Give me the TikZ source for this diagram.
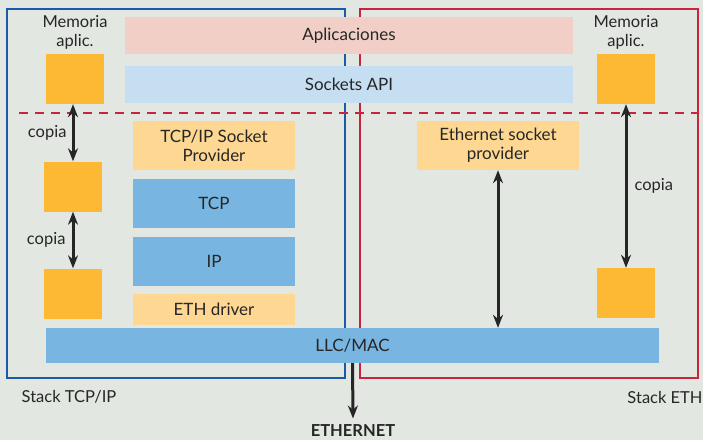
\documentclass[tikz,border=0pt]{standalone}
\usepackage{fontspec}
\setmainfont{Lato}
\usepackage{tikz}
\usetikzlibrary{calc,positioning,arrows.meta}
\definecolor{fondo}{HTML}{E2E7E1}
\definecolor{azulmarco}{HTML}{1B5AA6}
\definecolor{rojomarco}{HTML}{C8243F}
\definecolor{rosa}{HTML}{F1CFC6}
\definecolor{celeste}{HTML}{C6DEF1}
\definecolor{naranja}{HTML}{FDB933}
\definecolor{crema}{HTML}{FED892}
\definecolor{azul}{HTML}{78B5E1}

\begin{document}
\begin{tikzpicture}[
x=1pt, y=-1pt,
capa/.style={
	rectangle, inner sep=0pt,
	minimum width=162pt, minimum height=49pt,
	text=black!85, align=center,
	font=\fontsize{17}{19}\selectfont
},
mem/.style={
	rectangle, fill=naranja,
	minimum width=58pt, minimum height=50pt
},
marco/.style={line width=2.8pt},
flecha/.style={line width=3pt, black!85,
	{Stealth[length=13pt,width=10pt]}-{Stealth[length=13pt,width=10pt]}},
txt/.style={text=black!85, font=\fontsize{16.5}{18.5}\selectfont, align=center}
]
\useasboundingbox[fill=fondo] (0,0) rectangle (703,440);
% marcos de los dos stacks
\draw[marco, azulmarco] (7,9) rectangle (345,378);
\draw[marco, rojomarco] (360,9) rectangle (698,378);
\draw[rojomarco, line width=2.8pt, dash pattern=on 9pt off 7pt] (19,113) -- (698,113);

\node[capa, fill=rosa, minimum width=448pt, minimum height=37pt] (app) at (349,35.5) {Aplicaciones};
\node[capa, fill=celeste, minimum width=448pt, minimum height=37pt] (sock) at (349,84.5) {Sockets API};

% lado TCP/IP
\node[capa, fill=crema] (tcpsp) at (214,145.5) {TCP/IP Socket\\Provider};
\node[capa, fill=azul, below = 9pt of tcpsp] (tcp) {TCP};
\node[capa, fill=azul, below = 8pt of tcp] (ip) {IP};
\node[capa, fill=crema, minimum height=31pt, below = 8pt of ip] (eth) {ETH driver};
\node[capa, fill=azul, minimum width=613pt, minimum height=35pt] (llc) at (352.5,345.5) {LLC/MAC};

\node[mem] (m1) at (75,79) {};
\node[mem] (m2) at (73,186.5) {};
\node[mem] (m3) at (73,293.5) {};
\node[txt, above = 1pt of m1] (lm1) {Memoria\\aplic.};
\draw[flecha] (m2.north) -- (m2.north |- m1.south);
\draw[flecha] (m3.north) -- (m2.south);
\node[txt, left = 4pt of $(m1.south)!0.5!(m2.north)$] (c1) {copia};
\node[txt, left = 4pt of $(m2.south)!0.5!(m3.north)$] (c2) {copia};

% lado ETH
\node[capa, fill=crema] (ethsp) at (498,145.5) {Ethernet socket\\provider};
\node[mem] (m4) at (626,79) {};
\node[mem] (m5) at (626,293) {};
\node[txt, above = 1pt of m4] (lm4) {Memoria\\aplic.};
\draw[flecha] (m4.south) -- (m5.north);
\node[txt, right = 5pt of $(m4.south)!0.5!(m5.north)$] (c3) {copia};
\draw[flecha] (ethsp.south) -- (ethsp.south |- llc.north);

\node[txt] (stk1) at (69,397) {Stack TCP/IP};
\node[txt] (stk2) at (665,397) {Stack ETH};
\node[txt, font=\fontsize{16.5}{18}\selectfont\bfseries] (ether) at (353,431) {ETHERNET};
\draw[line width=3pt, black!85, -{Stealth[length=13pt,width=10pt]}] (llc.south) -- ($(ether.north)+(0,-3)$);
\end{tikzpicture}
\end{document}
